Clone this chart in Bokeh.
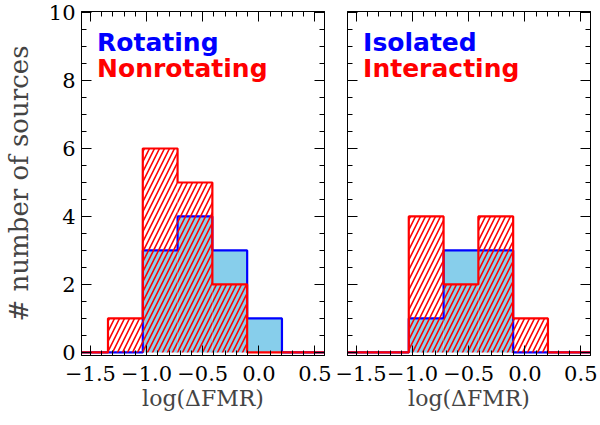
import numpy as np
from bokeh.plotting import figure
from bokeh.models import Range1d, LinearAxis, Label, CustomJSTickFormatter, FixedTicker
from bokeh.layouts import row
from bokeh.embed import file_html
from bokeh.resources import INLINE

# ---- data ----
bin_edges = [-1.344, -1.034, -0.724, -0.414, -0.104, 0.206]
rotating = [0, 3, 4, 3, 1]
nonrotating = [1, 6, 5, 2, 0]
isolated = [0, 1, 3, 3, 0]
interacting = [0, 4, 2, 4, 1]
x_major = [-1.5, -1.0, -0.5, 0.0, 0.5]
x_minor = [round(-1.6 + 0.1 * i, 1) for i in range(23)]
y_major = [0, 2, 4, 6, 8, 10]
y_minor = [0.5 * i for i in range(21)]
XLIM = (-1.58, 0.585)
YLIM = (-0.09, 10.03)

BLUE = "#0000ff"
RED = "#ff0000"
FILL = "#87ceeb"
SERIF = "DejaVu Serif"


def step_xy(edges, counts, lo, hi):
    xs = [lo, edges[0]]
    ys = [0, 0]
    for i, c in enumerate(counts):
        xs += [edges[i], edges[i + 1]]
        ys += [c, c]
    xs += [edges[-1], hi]
    ys += [0, 0]
    return xs, ys


fmt_x = CustomJSTickFormatter(code="return tick.toFixed(1).replace('-', '\u2212');")
fmt_y = CustomJSTickFormatter(code="return tick.toFixed(0);")
fmt_blank = CustomJSTickFormatter(code="return '';")


def style_axis(ax, major, minor, show_labels, fmt=None):
    ax.ticker = FixedTicker(ticks=major, minor_ticks=minor)
    ax.major_tick_in = 10
    ax.major_tick_out = 0
    ax.minor_tick_in = 5
    ax.minor_tick_out = 0
    ax.axis_line_color = "black"
    ax.major_tick_line_color = "black"
    ax.minor_tick_line_color = "black"
    if show_labels:
        ax.major_label_text_font = SERIF
        ax.major_label_text_font_size = "21px"
        ax.major_label_text_color = "black"
        ax.formatter = fmt
    else:
        ax.formatter = fmt_blank
        ax.major_label_standoff = 0


def panel(blue_counts, red_counts, blue_name, red_name, left_labels, mb_left, mb_right):
    p = figure(frame_width=243, frame_height=344, output_backend="svg",
               toolbar_location=None, x_range=Range1d(*XLIM), y_range=Range1d(*YLIM),
               min_border_left=mb_left, min_border_right=mb_right,
               min_border_top=11, min_border_bottom=0,
               x_axis_location=None, y_axis_location=None)
    p.grid.visible = False
    p.outline_line_color = "black"
    p.background_fill_color = "white"
    p.border_fill_color = "white"

    xb = LinearAxis()
    style_axis(xb, x_major, x_minor, True, fmt_x)
    xb.major_label_standoff = 10
    xb.axis_label = "log(\u0394FMR)"
    xb.axis_label_text_font = SERIF
    xb.axis_label_text_font_size = "22px"
    xb.axis_label_text_font_style = "normal"
    xb.axis_label_standoff = 2
    p.add_layout(xb, "below")
    xt = LinearAxis()
    style_axis(xt, x_major, x_minor, False)
    p.add_layout(xt, "above")

    yl = LinearAxis()
    style_axis(yl, y_major, y_minor, left_labels, fmt_y)
    if left_labels:
        yl.major_label_standoff = 6
        yl.axis_label = "# number of sources"
        yl.axis_label_text_font = SERIF
        yl.axis_label_text_font_size = "26px"
        yl.axis_label_text_font_style = "normal"
        yl.axis_label_standoff = 12
    p.add_layout(yl, "left")
    yr = LinearAxis()
    style_axis(yr, y_major, y_minor, False)
    p.add_layout(yr, "right")

    lefts = bin_edges[:-1]
    rights = bin_edges[1:]
    p.quad(left=lefts, right=rights, bottom=0, top=blue_counts,
           fill_color=FILL, line_color=None)
    bx, by = step_xy(bin_edges, blue_counts, XLIM[0], XLIM[1])
    p.line(bx, by, line_color=BLUE, line_width=2.2)
    p.quad(left=lefts, right=rights, bottom=0, top=red_counts,
           fill_color=None, line_color=None,
           hatch_pattern="/", hatch_color=RED, hatch_weight=1.6, hatch_scale=10)
    rx, ry = step_xy(bin_edges, red_counts, XLIM[0], XLIM[1])
    p.line(rx, ry, line_color=RED, line_width=2.2)

    p.add_layout(Label(x=-1.441, y=9.12, text=blue_name, text_color=BLUE,
                       text_font="DejaVu Sans", text_font_style="bold",
                       text_font_size="25px", text_baseline="alphabetic"))
    p.add_layout(Label(x=-1.441, y=8.34, text=red_name, text_color=RED,
                       text_font="DejaVu Sans", text_font_style="bold",
                       text_font_size="25px", text_baseline="alphabetic"))
    return p


p1 = panel(rotating, nonrotating, "Rotating", "Nonrotating", True, 76, 11)
p2 = panel(isolated, interacting, "Isolated", "Interacting", False, 12, 7)
layout = row(p1, p2, spacing=0)

open("out.html", "w").write(file_html(layout, INLINE))
